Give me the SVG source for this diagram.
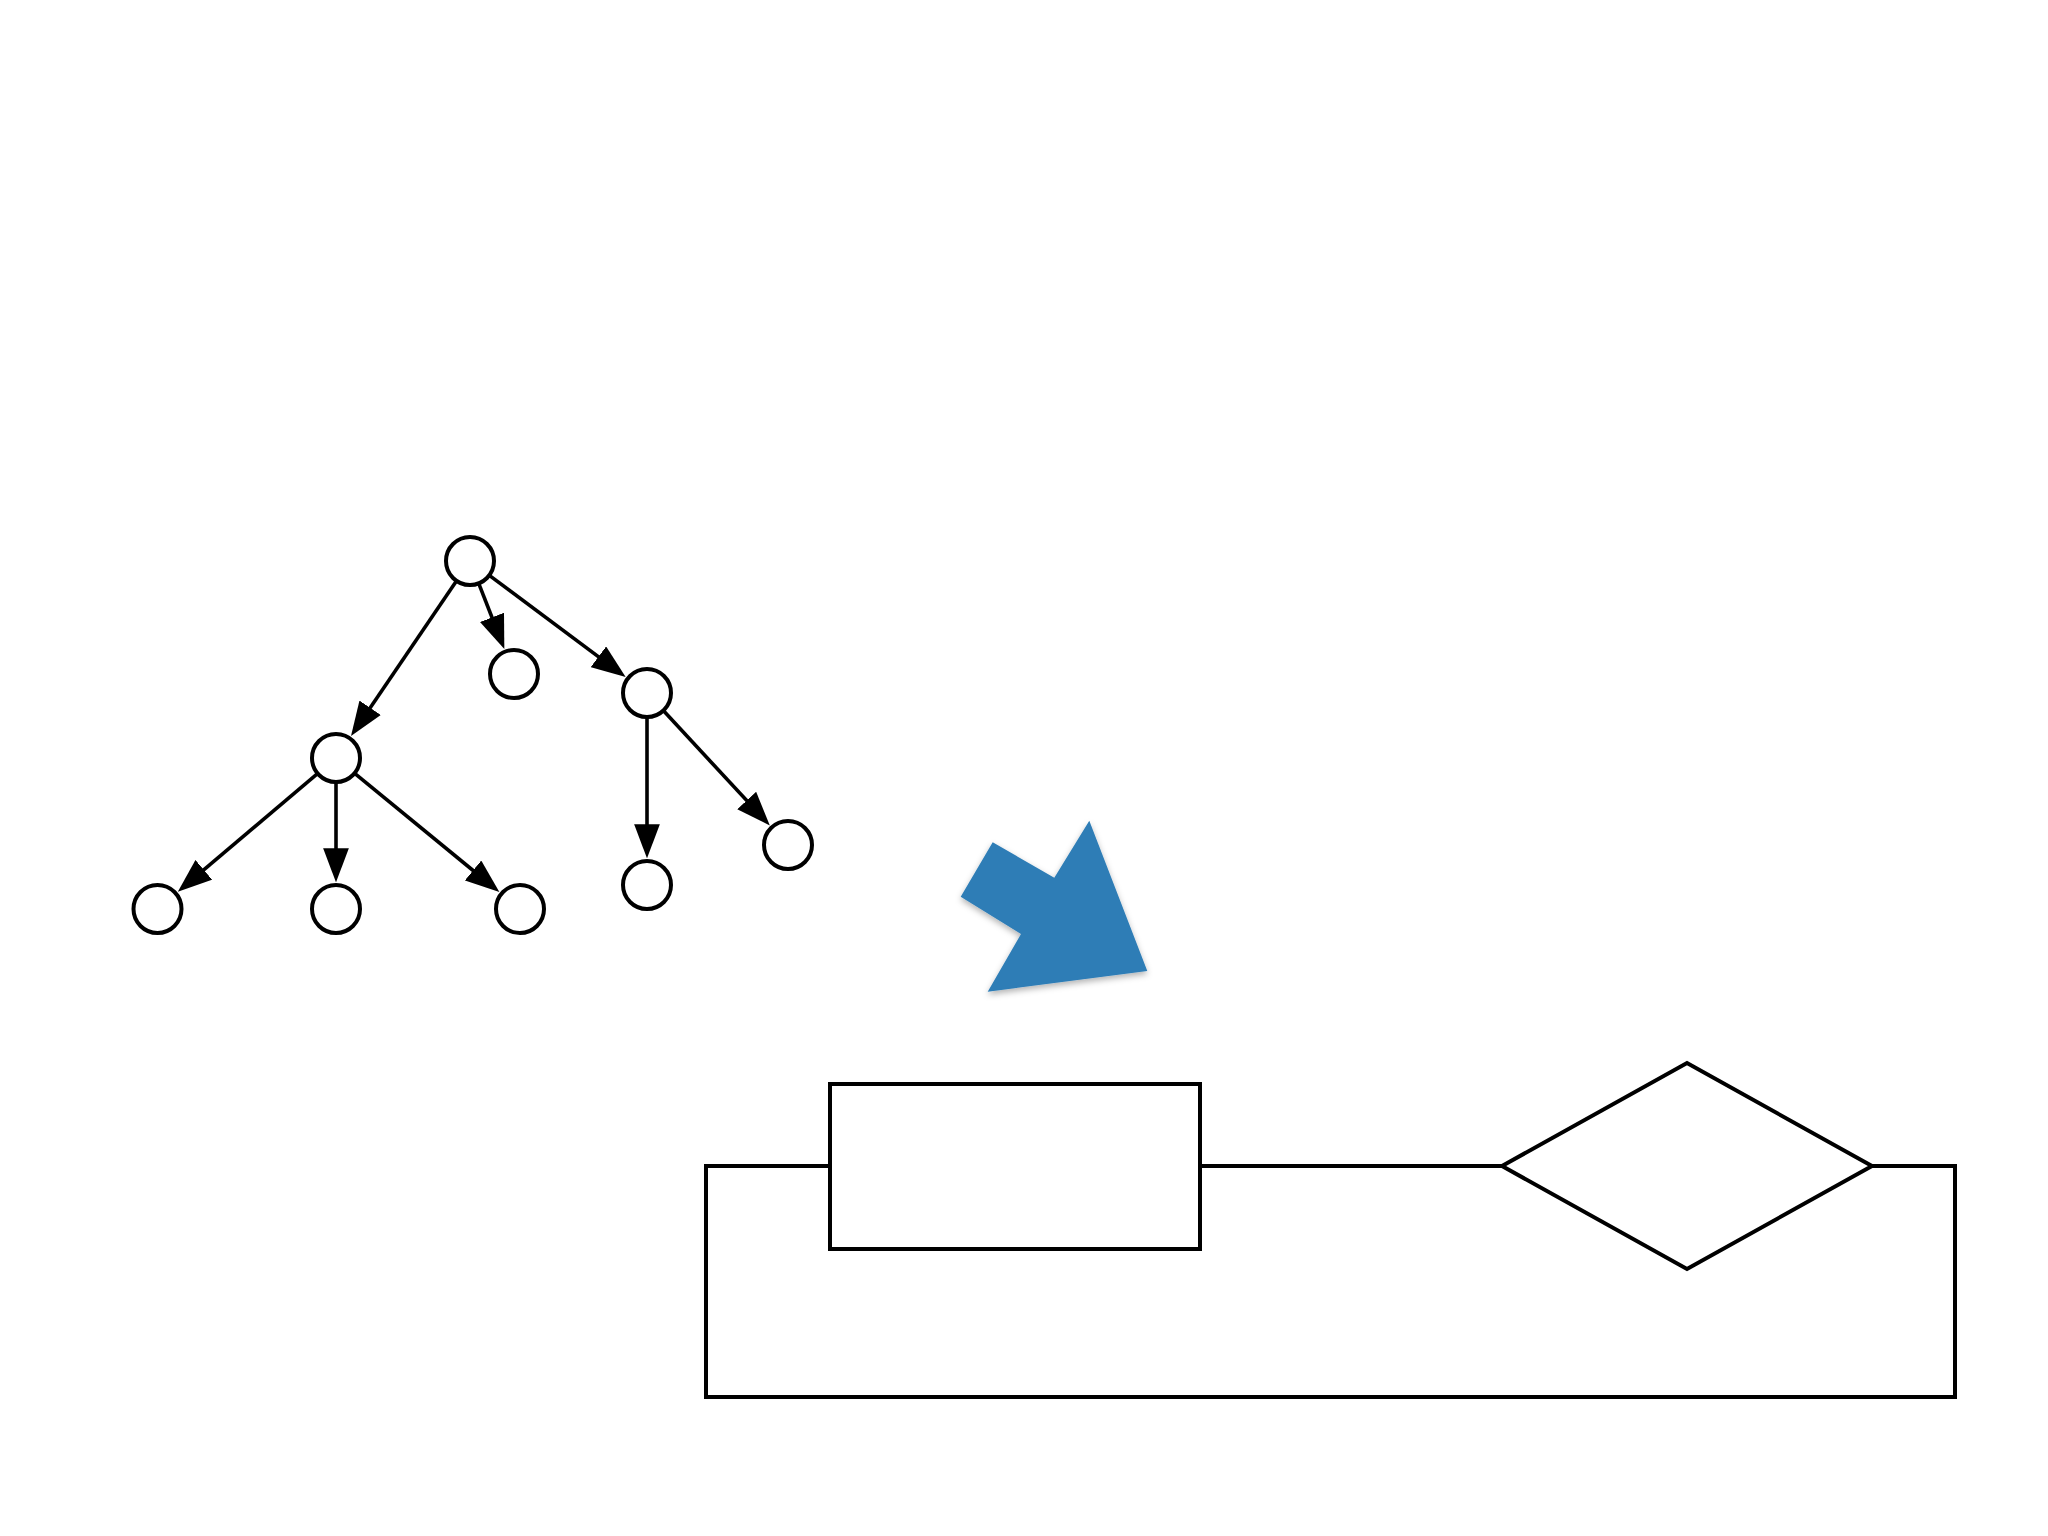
<svg xmlns="http://www.w3.org/2000/svg" width="2048" height="1536" viewBox="0 0 2048 1536">
<style>
.node{fill:#fff;stroke:#000;stroke-width:4}
.edge{stroke:#000;stroke-width:3.6;fill:none}
.box{fill:#fff;stroke:#000;stroke-width:4;stroke-linejoin:miter}
.wire{fill:none;stroke:#000;stroke-width:4;stroke-linejoin:miter}
</style>
<defs>
<marker id="ah" markerUnits="userSpaceOnUse" markerWidth="34" markerHeight="26" viewBox="0 0 33 25" refX="23" refY="12.5" orient="auto">
<path d="M0,0 L33,12.5 L0,25 z" fill="#000"/>
</marker>
<filter id="sh" x="-20%" y="-20%" width="140%" height="150%">
<feDropShadow dx="0" dy="3" stdDeviation="3" flood-color="#000" flood-opacity="0.3"/>
</filter>
</defs>
<rect width="2048" height="1536" fill="#fff"/>
<g id="connectors">
<line class="edge" x1="455.9" y1="581.7" x2="356.8" y2="727.4" marker-end="url(#ah)"/>
<line class="edge" x1="479.1" y1="584.3" x2="500.6" y2="639.5" marker-end="url(#ah)"/>
<line class="edge" x1="490.0" y1="575.9" x2="617.4" y2="670.9" marker-end="url(#ah)"/>
<line class="edge" x1="316.9" y1="774.1" x2="185.7" y2="885.1" marker-end="url(#ah)"/>
<line class="edge" x1="336" y1="783" x2="336" y2="872" marker-end="url(#ah)"/>
<line class="edge" x1="355.3" y1="773.9" x2="491.4" y2="885.5" marker-end="url(#ah)"/>
<line class="edge" x1="647" y1="718" x2="647" y2="848" marker-end="url(#ah)"/>
<line class="edge" x1="664.0" y1="711.3" x2="762.8" y2="817.9" marker-end="url(#ah)"/>
<path id="loop" class="wire" d="M830,1166 H706 V1397 H1955 V1166 H1872 M1200,1166 H1502"/>
</g>
<g id="n-root"><circle class="node" cx="470" cy="561" r="24"/></g>
<g id="n-a"><circle class="node" cx="336" cy="758" r="24"/></g>
<g id="n-b"><circle class="node" cx="514" cy="674" r="24"/></g>
<g id="n-c"><circle class="node" cx="647" cy="693" r="24"/></g>
<g id="n-a1"><circle class="node" cx="157.5" cy="909" r="24"/></g>
<g id="n-a2"><circle class="node" cx="336" cy="909" r="24"/></g>
<g id="n-a3"><circle class="node" cx="520" cy="909" r="24"/></g>
<g id="n-c1"><circle class="node" cx="647" cy="885" r="24"/></g>
<g id="n-c2"><circle class="node" cx="788" cy="845" r="24"/></g>
<g id="blue-arrow">
<polygon points="992.7,842.3 1054.3,877.7 1089.3,820.7 1147.3,971 987.7,991.7 1021,934 960.7,896.7" fill="#2e7db6" filter="url(#sh)"/>
</g>
<g id="process"><rect class="box" x="830" y="1084" width="370" height="165"/></g>
<g id="decision"><polygon class="box" points="1502,1166 1687,1063 1872,1166 1687,1269"/></g>
</svg>
